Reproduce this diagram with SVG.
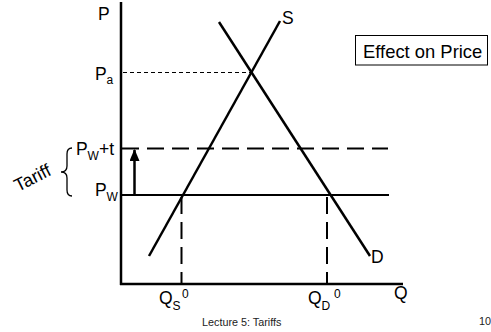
<svg xmlns="http://www.w3.org/2000/svg" width="491" height="332" viewBox="0 0 491 332">
<defs>
<style>
text{font-family:"Liberation Sans",Arial,sans-serif;fill:#000}
.lb{font-size:17.5px}
.sb{font-size:12px}
.ft{font-size:10.8px;fill:#222}
.ax{stroke:#000;stroke-width:2.5;fill:none}
.cv{stroke:#000;stroke-width:2.5;fill:none;stroke-linecap:butt}
.sol{stroke:#000;stroke-width:2.2;fill:none}
.dsh{stroke:#000;stroke-width:2;fill:none;stroke-dasharray:17 8}
.dot{stroke:#000;stroke-width:1;fill:none;stroke-dasharray:4 3}
</style>
<marker id="ah" viewBox="0 0 12 10" refX="11" refY="5" markerWidth="12" markerHeight="10" markerUnits="userSpaceOnUse" orient="auto">
<path d="M0,0 L12,5 L0,10 Z" fill="#000"/>
</marker>
</defs>
<rect width="491" height="332" fill="#fff"/>
<g id="axes">
<line class="ax" x1="121" y1="2" x2="121" y2="285"/>
<line class="ax" x1="120" y1="284" x2="403" y2="284"/>
<text class="lb" x="98" y="20">P</text>
<text class="lb" x="394" y="299">Q</text>
</g>
<g id="supply">
<line class="cv" x1="149" y1="256" x2="280" y2="21"/>
<text class="lb" x="282" y="24">S</text>
</g>
<g id="demand">
<line class="cv" x1="219" y1="22" x2="370" y2="256"/>
<text class="lb" x="371" y="263">D</text>
</g>
<g id="autarky-price">
<line class="dot" x1="123" y1="72.5" x2="252" y2="72.5"/>
<text class="lb" x="95" y="80">P</text><text class="sb" x="106.6" y="84">a</text>
</g>
<g id="tariff-price">
<line class="dsh" x1="122" y1="148.5" x2="388" y2="148.5"/>
<text class="lb" x="76" y="155">P</text><text class="sb" x="87.6" y="160">W</text><text class="lb" x="99" y="155">+t</text>
</g>
<g id="world-price">
<line class="sol" x1="122" y1="195" x2="389" y2="195"/>
<text class="lb" x="95" y="196">P</text><text class="sb" x="106.6" y="201">W</text>
</g>
<g id="qs0">
<line class="dsh" x1="181.5" y1="197" x2="181.5" y2="283"/>
<text class="lb" x="159" y="304">Q</text><text class="sb" x="172.6" y="310">S</text><text class="sb" x="182" y="298">0</text>
</g>
<g id="qd0">
<line class="dsh" x1="327" y1="197" x2="327" y2="283"/>
<text class="lb" x="308" y="304">Q</text><text class="sb" x="321.6" y="310">D</text><text class="sb" x="334" y="298">0</text>
</g>
<g id="tariff-brace">
<path d="M72,148 Q67,148 67,154 L67,166 Q67,172 61,172 Q67,172 67,178 L67,190 Q67,196 72,196" fill="none" stroke="#000" stroke-width="1.3"/>
<text class="lb" style="font-size:18px" transform="translate(18,192) rotate(-27)">Tariff</text>
</g>
<g id="effect-box">
<rect x="355.5" y="35.5" width="132" height="29.5" fill="#fff" stroke="#000" stroke-width="1"/>
<text x="363" y="58" style="font-size:18.4px">Effect on Price</text>
</g>
<g id="connectors">
<line x1="134.5" y1="195" x2="134.5" y2="150" stroke="#000" stroke-width="2.5" marker-end="url(#ah)"/>
</g>
<g id="footer">
<text class="ft" x="202" y="326">Lecture 5: Tariffs</text>
<text class="ft" x="479" y="325">10</text>
</g>
</svg>
